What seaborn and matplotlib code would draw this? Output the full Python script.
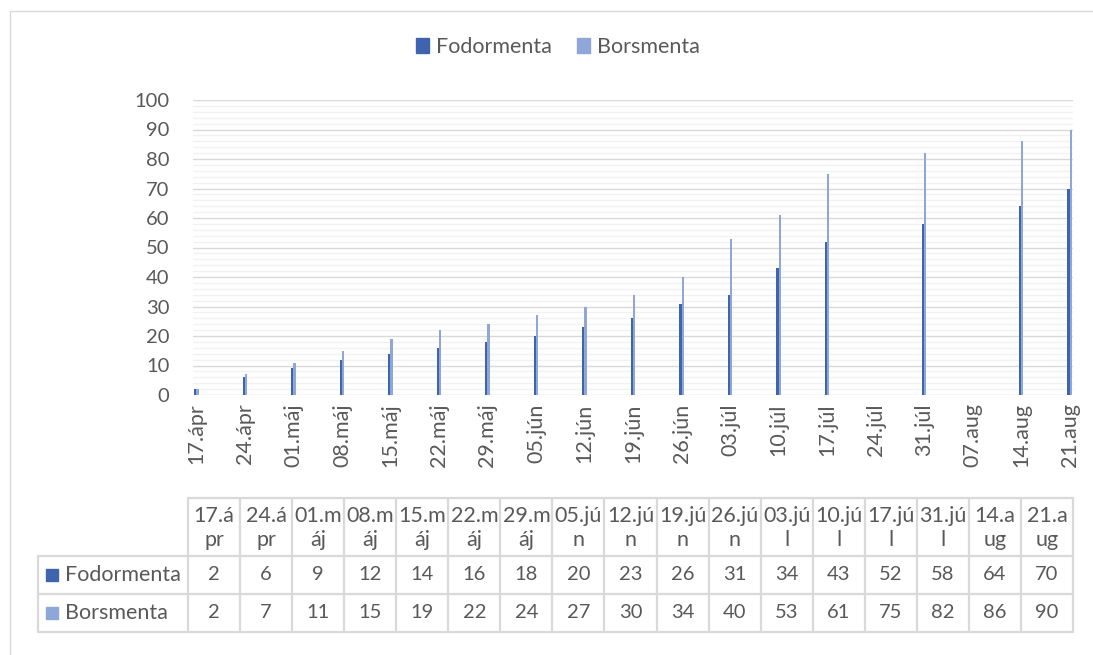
import numpy as np
import pandas as pd
import matplotlib
matplotlib.use("Agg")
import matplotlib.pyplot as plt
import seaborn as sns
from matplotlib.patches import Rectangle

# ---------------- data ----------------
dates = ["04-17", "04-24", "05-01", "05-08", "05-15", "05-22", "05-29",
         "06-05", "06-12", "06-19", "06-26", "07-03", "07-10", "07-17",
         "07-31", "08-14", "08-21"]
fodormenta = [2, 6, 9, 12, 14, 16, 18, 20, 23, 26, 31, 34, 43, 52, 58, 64, 70]
borsmenta = [2, 7, 11, 15, 19, 22, 24, 27, 30, 34, 40, 53, 61, 75, 82, 86, 90]
series_names = ["Fodormenta", "Borsmenta"]
axis_tick_labels = ["17.ápr", "24.ápr", "01.máj", "08.máj", "15.máj", "22.máj",
                    "29.máj", "05.jún", "12.jún", "19.jún", "26.jún", "03.júl",
                    "10.júl", "17.júl", "24.júl", "31.júl", "07.aug", "14.aug",
                    "21.aug"]
table_col_labels = ["17.á\npr", "24.á\npr", "01.m\náj", "08.m\náj", "15.m\náj",
                    "22.m\náj", "29.m\náj", "05.jú\nn", "12.jú\nn", "19.jú\nn",
                    "26.jú\nn", "03.jú\nl", "10.jú\nl", "17.jú\nl", "31.jú\nl",
                    "14.a\nug", "21.a\nug"]
y_ticks = list(range(0, 101, 10))

colors = {"Fodormenta": "#3F64AE", "Borsmenta": "#8FA6D8"}
TXT = "#595959"
GRID = "#D9D9D9"
FS_TXT = 15.5
FS_NUM = 14.5

sns.set_theme(style="white")
plt.rcParams["font.family"] = ["Lato", "DejaVu Sans"]

W, H = 1093, 655
fig = plt.figure(figsize=(W / 100, H / 100), dpi=100)

def fx(px):
    return px / W

def fy(py):
    return 1 - py / H

# day-based date axis (every day is a slot, like Excel date axis)
all_days = pd.date_range("2000-04-17", "2000-08-21").strftime("%m-%d").tolist()

df = pd.DataFrame({
    "date": dates * 2,
    "series": [series_names[0]] * len(dates) + [series_names[1]] * len(dates),
    "value": fodormenta + borsmenta,
})

L, R, T, B = 193, 1073, 100, 395
ax = fig.add_axes([fx(L), fy(B), fx(R) - fx(L), fy(T) - fy(B)])
sns.barplot(data=df, x="date", y="value", hue="series", order=all_days,
            hue_order=series_names, palette=colors, width=0.66,
            errorbar=None, saturation=1, linewidth=0, legend=False, ax=ax)

ax.set_xlim(-0.5, len(all_days) - 0.5)
ax.set_ylim(0, 100)
ax.set_yticks(y_ticks)
ax.set_yticks(np.arange(0, 101, 2), minor=True)
ax.set_yticklabels([str(v) for v in y_ticks], fontsize=FS_NUM, color=TXT)
tick_pos = np.arange(0, len(all_days), 7)
ax.set_xticks(tick_pos)
ax.set_xticklabels(axis_tick_labels, rotation=90, fontsize=FS_TXT, color=TXT)
ax.tick_params(axis="both", which="both", length=0)
ax.tick_params(axis="y", pad=17)
ax.tick_params(axis="x", pad=6)
ax.grid(axis="y", which="major", color=GRID, linewidth=1.0)
ax.grid(axis="y", which="minor", color="#F2F2F2", linewidth=1.0)
ax.grid(axis="x", visible=False)
ax.set_axisbelow(True)
for s in ax.spines.values():
    s.set_visible(False)
ax.set_xlabel("")
ax.set_ylabel("")

# legend
handles = [Rectangle((0, 0), 1, 1, color=colors[n]) for n in series_names]
fig.legend(handles, series_names, loc="center", bbox_to_anchor=(fx(558), fy(47)),
           ncol=2, frameon=False, fontsize=FS_TXT, labelcolor=TXT,
           handlelength=0.6, handleheight=0.75, handletextpad=0.3, columnspacing=1.2)

# data table
TL, TR, TT, TB = 38, 1073, 498, 632
tax = fig.add_axes([fx(TL), fy(TB), fx(TR) - fx(TL), fy(TT) - fy(TB)])
tax.set_xlim(TL, TR)
tax.set_ylim(TB, TT)
tax.axis("off")
hdr_r = 188
ncol = len(table_col_labels)
cw = (TR - hdr_r) / ncol
row_lines = [TT, 556, 594, TB]
lw = 1.6
# horizontal lines
tax.plot([hdr_r, TR], [TT, TT], color=GRID, lw=lw, clip_on=False)
for yl in row_lines[1:]:
    tax.plot([TL, TR], [yl, yl], color=GRID, lw=lw, clip_on=False)
# vertical lines
tax.plot([TL, TL], [row_lines[1], TB], color=GRID, lw=lw, clip_on=False)
for k in range(ncol + 1):
    xk = hdr_r + k * cw
    tax.plot([xk, xk], [TT, TB], color=GRID, lw=lw, clip_on=False)
# header labels
for k, lab in enumerate(table_col_labels):
    tax.text(hdr_r + (k + 0.5) * cw, (TT + row_lines[1]) / 2 + 1, lab, ha="center",
             va="center", fontsize=FS_TXT, color=TXT, linespacing=1.25)
# rows
for r, (name, vals) in enumerate(zip(series_names, [fodormenta, borsmenta])):
    yc = (row_lines[r + 1] + row_lines[r + 2]) / 2
    tax.add_patch(Rectangle((46, yc - 6), 12, 12, color=colors[name], clip_on=False))
    tax.text(65, yc, name, ha="left", va="center", fontsize=FS_TXT, color=TXT)
    for k, v in enumerate(vals):
        tax.text(hdr_r + (k + 0.5) * cw, yc, str(v), ha="center", va="center",
                 fontsize=FS_NUM, color=TXT)

# chart border
fig.add_artist(Rectangle((fx(9.5), -0.1), 1.2, fy(10.5) + 0.1,
                         transform=fig.transFigure, fill=False,
                         edgecolor=GRID, lw=1.0))

fig.savefig("out.png", dpi=100, facecolor="white")
